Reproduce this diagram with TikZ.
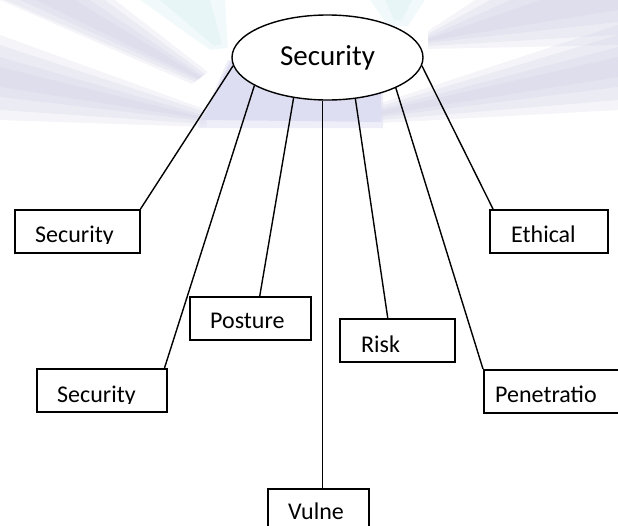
\documentclass[tikz,border=0pt]{standalone}
\usepackage{fontspec}
\setmainfont{Carlito}
\definecolor{raylav}{RGB}{200,200,224}
\definecolor{raycyan}{RGB}{200,232,236}
\definecolor{underlav}{RGB}{222,222,242}
\tikzset{
  ell/.style={draw, line width=1.4pt, ellipse, fill=white, inner sep=0pt,
              minimum width=191pt, minimum height=85pt,
              font=\fontsize{29}{33}\selectfont},
  boxnode/.style={draw, line width=1.5pt, fill=white, anchor=north west,
                  minimum height=43pt, inner sep=0pt},
  lbl/.style={anchor=base west, inner sep=0pt, font=\fontsize{24}{28}\selectfont},
  conn/.style={line width=1.4pt},
  ray/.style={fill=raylav, fill opacity=0.2},
  cray/.style={fill=raycyan, fill opacity=0.25}
}
\usetikzlibrary{shapes.geometric}
\begin{document}
\begin{tikzpicture}[x=1pt,y=-1pt]
\useasboundingbox (0,0) rectangle (618,525);
\clip (0,0) rectangle (618,525);
% faint background rays
% left upper band
\fill[ray] (0,0) -- (115,0) -- (208,72) -- (192,84) -- cycle;
\fill[ray] (5,0) -- (105,0) -- (205,74) -- (195,82) -- cycle;
\fill[ray] (20,0) -- (90,0) -- (203,76) -- (197,80) -- cycle;
\fill[ray] (35,0) -- (75,0) -- (201,77) -- (199,79) -- cycle;
% left lower band
\fill[ray] (0,35) -- (0,120) -- (207,127) -- (207,110) -- cycle;
\fill[ray] (0,45) -- (0,110) -- (205,124) -- (205,112) -- cycle;
\fill[ray] (0,57) -- (0,97) -- (203,121) -- (203,115) -- cycle;
\fill[ray] (0,67) -- (0,87) -- (202,119) -- (202,117) -- cycle;
% right lower band
\fill[ray] (618,25) -- (618,110) -- (381,123) -- (381,103) -- cycle;
\fill[ray] (618,35) -- (618,100) -- (381,120) -- (381,106) -- cycle;
\fill[ray] (618,47) -- (618,87) -- (381,117) -- (381,109) -- cycle;
\fill[ray] (618,57) -- (618,77) -- (381,115) -- (381,111) -- cycle;
% right upper band
\fill[ray] (475,0) -- (618,0) -- (618,45) -- (428,49) -- (428,31) -- cycle;
\fill[ray] (490,0) -- (618,0) -- (618,35) -- (428,46) -- (428,34) -- cycle;
\fill[ray] (510,0) -- (618,0) -- (618,22) -- (428,43) -- (428,37) -- cycle;
\fill[ray] (540,0) -- (618,0) -- (618,10) -- (428,41) -- (428,39) -- cycle;
% cyan tints
\fill[cray] (140,0) -- (225,0) -- (228,48) -- (210,50) -- cycle;
\fill[cray] (160,0) -- (210,0) -- (222,44) -- (214,46) -- cycle;
\fill[cray] (370,0) -- (425,0) -- (408,26) -- (388,26) -- cycle;
\fill[cray] (385,0) -- (412,0) -- (402,20) -- (394,20) -- cycle;
% lavender under the ellipse
\fill[underlav, fill opacity=0.5] (198,128) -- (228,60) -- (383,60) -- (383,128) -- cycle;
\fill[underlav] (202,120) -- (230,62) -- (381,62) -- (381,122) -- cycle;
% central ellipse
\node[ell] (e) at (327.5,57.5) {Security};
% boxes
\node[boxnode, minimum width=125pt] (s1) at (14,209) {};
\node[boxnode, minimum width=121pt] (po) at (189,296) {};
\node[boxnode, minimum width=130pt] (s2) at (36,368) {};
\node[boxnode, minimum width=118pt] (et) at (489,209) {};
\node[boxnode, minimum width=115pt] (ri) at (339,318) {};
\node[boxnode, minimum width=160pt] (pe) at (483,369) {};
\node[boxnode, minimum width=101pt, minimum height=60pt] (vu) at (267,488) {};
% labels
\begin{scope}
  \clip (14,209) rectangle (139,243);
  \node[lbl] (s1t) at (35,242) {Security};
\end{scope}
\begin{scope}
  \clip (36,368) rectangle (166,403);
  \node[lbl] (s2t) at (57,402) {Security};
\end{scope}
\node[lbl] (pot) at (210,328) {Posture};
\node[lbl] (ett) at (511,242) {Ethical};
\node[lbl] (rit) at (361,352) {Risk};
\node[lbl] (pet) at (495,402) {Penetratio};
\node[lbl] (vut) at (288,519) {Vulne};
% connectors
\draw[conn] (e.185) -- (s1.north east);
\draw[conn] (e.201) -- ([xshift=-3pt]s2.north east);
\draw[conn] (e.230.6) -- ([xshift=9.5pt]po.north);
\draw[conn] ([xshift=4.5pt]vu.north) -- ([xshift=4.5pt]vu.north |- e.south);
\draw[conn] (e.304.4) -- ([xshift=-9.5pt]ri.north);
\draw[conn] (e.336.8) -- (pe.north west);
\draw[conn] (e.355.8) -- ([xshift=4pt]et.north west);
\end{tikzpicture}
\end{document}
